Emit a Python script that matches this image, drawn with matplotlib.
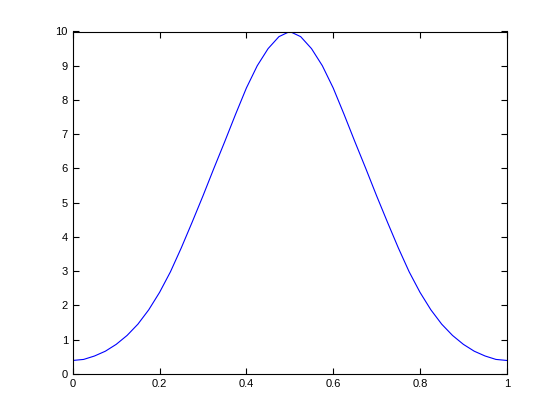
import numpy as np
import matplotlib
matplotlib.use("Agg")
import matplotlib.pyplot as plt

# valores (mitad izquierda, la curva es simétrica)
x_izq = [0.0, 0.025, 0.05, 0.075, 0.1, 0.125, 0.15, 0.175, 0.2, 0.225,
         0.25, 0.275, 0.3, 0.325, 0.35, 0.375, 0.4, 0.425, 0.45, 0.475, 0.5]
y_izq = [0.39, 0.42, 0.52, 0.66, 0.86, 1.12, 1.45, 1.87, 2.38, 2.98,
         3.68, 4.43, 5.2, 6.0, 6.78, 7.58, 8.35, 9.0, 9.5, 9.85, 10.0]

x = np.array(x_izq + [1 - v for v in x_izq[-2::-1]])
y = np.array(y_izq + y_izq[-2::-1])

plt.rcParams['font.family'] = ['Liberation Sans', 'DejaVu Sans']
plt.rcParams['font.size'] = 8

fig = plt.figure(figsize=(5.6, 4.2), dpi=100)
ax = fig.add_axes([0.13, 0.11, 0.775, 0.815])
ax.plot(x, y, color='blue', linewidth=0.8)

ax.set_xlim(0, 1)
ax.set_ylim(0, 10)
ax.set_xticks(np.arange(0, 1.01, 0.2))
ax.set_xticklabels(['0', '0.2', '0.4', '0.6', '0.8', '1'])
ax.set_yticks(range(0, 11))
ax.tick_params(direction='in', top=True, right=True, length=4, width=0.8)
for s in ax.spines.values():
    s.set_linewidth(0.8)

fig.savefig('out.png', dpi=100)
